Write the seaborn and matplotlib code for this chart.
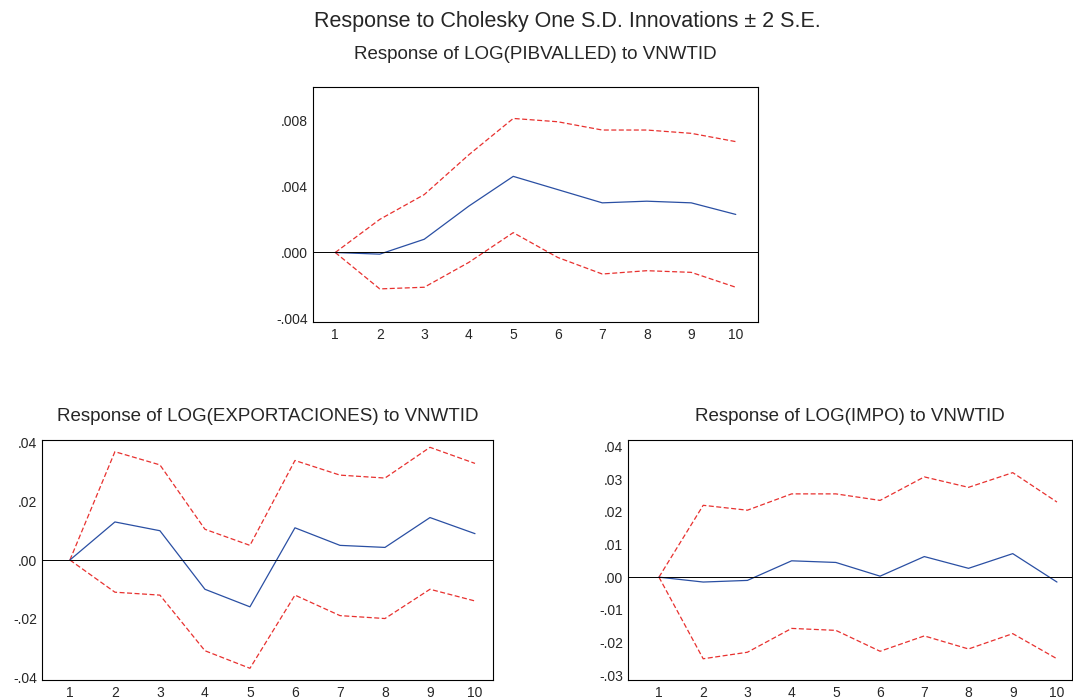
import matplotlib
matplotlib.use("Agg")
import matplotlib.pyplot as plt
import seaborn as sns
import numpy as np

periods = list(range(1, 11))

pib_resp = [0, -0.0001, 0.0008, 0.0028, 0.0046, 0.0038, 0.0030, 0.0031, 0.0030, 0.0023]
pib_up = [0, 0.0020, 0.0035, 0.0059, 0.0081, 0.0079, 0.0074, 0.0074, 0.0072, 0.0067]
pib_lo = [0, -0.0022, -0.0021, -0.0006, 0.0012, -0.0003, -0.0013, -0.0011, -0.0012, -0.0021]

exp_resp = [0, 0.013, 0.010, -0.010, -0.016, 0.011, 0.005, 0.0043, 0.0145, 0.009]
exp_up = [0, 0.037, 0.0325, 0.0105, 0.005, 0.034, 0.029, 0.028, 0.0385, 0.033]
exp_lo = [0, -0.011, -0.012, -0.031, -0.037, -0.012, -0.019, -0.020, -0.010, -0.014]

imp_resp = [0, -0.0015, -0.001, 0.005, 0.0045, 0.0003, 0.0063, 0.0027, 0.0072, -0.0015]
imp_up = [0, 0.022, 0.0205, 0.0255, 0.0255, 0.0235, 0.0307, 0.0275, 0.032, 0.023]
imp_lo = [0, -0.025, -0.023, -0.0157, -0.0163, -0.0227, -0.018, -0.022, -0.0173, -0.025]

sns.set_style("white")
plt.rcParams['font.family'] = ['Liberation Sans', 'DejaVu Sans']

W, H = 1073, 700
fig = plt.figure(figsize=(W / 100, H / 100), dpi=100)


def panel(box, resp, up, lo, title, xlim, ylim, yticks, fmt, pad):
    x0, y0, x1, y1 = box
    ax = fig.add_axes([x0 / W, 1 - y1 / H, (x1 - x0) / W, (y1 - y0) / H])
    sns.lineplot(x=periods, y=up, ax=ax, color='#e8312f', lw=0.9, linestyle=(0, (4, 2)))
    sns.lineplot(x=periods, y=lo, ax=ax, color='#e8312f', lw=0.9, linestyle=(0, (4, 2)))
    sns.lineplot(x=periods, y=resp, ax=ax, color='#2a4fa3', lw=0.9)
    ax.axhline(0, color='black', lw=0.7)
    ax.set_xlim(*xlim)
    ax.set_ylim(*ylim)
    ax.set_xticks(np.arange(1.5, 10.5, 1.0))
    ax.set_xticklabels([])
    ax.set_xticks(periods, minor=True)
    ax.set_xticklabels([str(p) for p in periods], minor=True, fontsize=10)
    ax.tick_params(axis='x', which='major', direction='in', length=5, width=0.7)
    ax.tick_params(axis='x', which='minor', length=0, pad=4)
    ax.set_yticks(yticks)
    ax.set_yticklabels([fmt(v) for v in yticks], fontsize=10)
    ax.tick_params(axis='y', direction='in', length=5, width=0.7)
    for s in ax.spines.values():
        s.set_color('black')
        s.set_linewidth(0.8)
    ax.set_title(title, fontsize=13.5, pad=pad)
    ax.set_xlabel('')
    ax.set_ylabel('')
    return ax


def f3(v):
    return f"{v:.3f}".replace("0.", ".")


def f2(v):
    return f"{v:.2f}".replace("0.", ".")


panel((313, 87, 758, 322), pib_resp, pib_up, pib_lo,
      'Response of LOG(PIBVALLED) to VNWTID', (0.5, 10.5), (-0.0042, 0.010),
      [-0.004, 0.0, 0.004, 0.008], f3, 20)
panel((42, 440, 493, 680), exp_resp, exp_up, exp_lo,
      'Response of LOG(EXPORTACIONES) to VNWTID', (0.38, 10.4), (-0.041, 0.041),
      [-0.04, -0.02, 0.0, 0.02, 0.04], f2, 14)
panel((628, 440, 1072, 680), imp_resp, imp_up, imp_lo,
      'Response of LOG(IMPO) to VNWTID', (0.3, 10.34), (-0.0315, 0.042),
      [-0.03, -0.02, -0.01, 0.0, 0.01, 0.02, 0.03, 0.04], f2, 14)

fig.text(567 / W, 1 - 21 / H, 'Response to Cholesky One S.D. Innovations \u00b1 2 S.E.',
         ha='center', va='center', fontsize=15.5)
fig.savefig('out.png', dpi=100)
